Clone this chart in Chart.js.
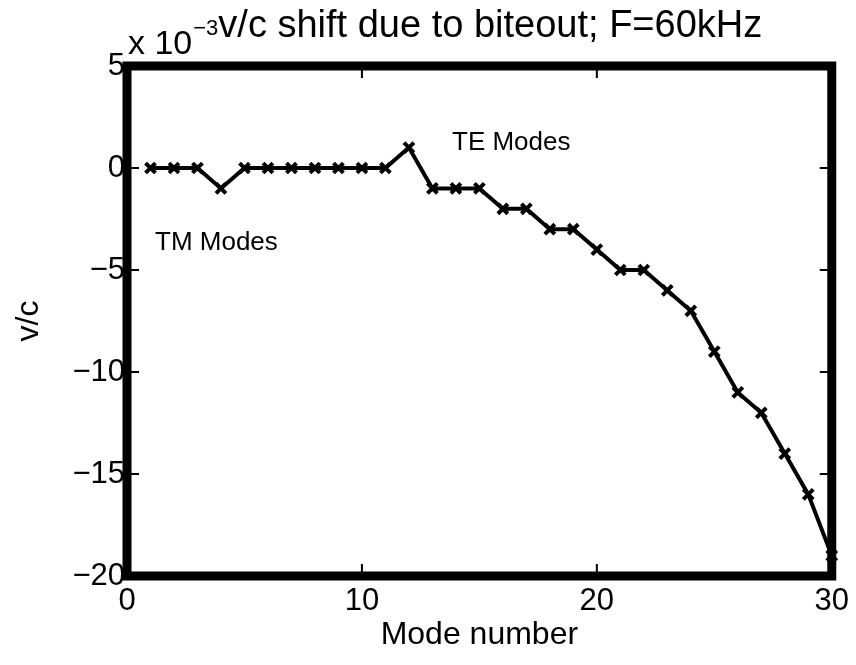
<!DOCTYPE html>
<html>
<head>
<meta charset="utf-8">
<script src="https://cdn.jsdelivr.net/npm/chart.js@4"></script>
<style>
  html, body { margin: 0; padding: 0; background: #fff; }
  #wrap { width: 856px; height: 665px; }
</style>
</head>
<body>
<div id="wrap"><canvas id="chart" width="856" height="665"></canvas></div>
<script>
// data (v/c in units of 1e-3)
const modes = [1, 2, 3, 4, 5, 6, 7, 8, 9, 10, 11, 12, 13, 14, 15, 16, 17, 18, 19, 20, 21, 22, 23, 24, 25, 26, 27, 28, 29, 30];
const shift = [0, 0, 0, -1, 0, 0, 0, 0, 0, 0, 0, 1, -1, -1, -1, -2, -2, -3, -3, -4, -5, -5, -6, -7, -9, -11, -12, -14, -16, -19];
const xTicks = [0, 10, 20, 30];
const yTicks = [5, 0, -5, -10, -15, -20];

const FONT = "'Liberation Sans', Arial, Helvetica, sans-serif";

// thick box, inward ticks and the text annotations
const framePlugin = {
    id: "frame",
    beforeDatasetsDraw(chart) {
        const { ctx, chartArea: a, scales } = chart;
        ctx.save();
        ctx.strokeStyle = "#000";
        ctx.lineWidth = 2;
        ctx.beginPath();
        xTicks.forEach((v) => {
            const x = scales.x.getPixelForValue(v);
            ctx.moveTo(x, a.bottom); ctx.lineTo(x, a.bottom - 12);
            ctx.moveTo(x, a.top); ctx.lineTo(x, a.top + 12);
        });
        yTicks.forEach((v) => {
            const y = scales.y.getPixelForValue(v);
            ctx.moveTo(a.left, y); ctx.lineTo(a.left + 12, y);
            ctx.moveTo(a.right, y); ctx.lineTo(a.right - 12, y);
        });
        ctx.stroke();
        ctx.lineWidth = 9;
        ctx.strokeRect(a.left, a.top, a.right - a.left, a.bottom - a.top);
        ctx.restore();
    },
    afterDraw(chart) {
        const { ctx } = chart;
        ctx.save();
        ctx.fillStyle = "#000";
        ctx.textBaseline = "alphabetic";
        ctx.textAlign = "left";
        ctx.font = "34px " + FONT;
        ctx.fillText("x 10", 128, 54);
        let x = 128 + ctx.measureText("x 10").width + 1;
        ctx.font = "22px " + FONT;
        ctx.fillText("\u22123", x, 35);
        x += ctx.measureText("\u22123").width;
        ctx.font = "38px " + FONT;
        ctx.fillText("v/c shift due to biteout; F=60kHz", x, 37);
        ctx.font = "26px " + FONT;
        ctx.fillText("TE Modes", 452, 150);
        ctx.fillText("TM Modes", 155, 250);
        ctx.restore();
    },
};

const ctx = document.getElementById("chart").getContext("2d");
new Chart(ctx, {
    type: "line",
    data: {
        datasets: [
            {
                data: modes.map((m, i) => ({ x: m, y: shift[i] })),
                borderColor: "#000",
                backgroundColor: "#000",
                borderWidth: 4,
                pointStyle: "crossRot",
                pointRadius: 7,
                pointBorderWidth: 4,
                pointBorderColor: "#000",
                tension: 0,
                clip: false,
            },
        ],
    },
    options: {
        responsive: false,
        animation: false,
        layout: { padding: { top: 66, right: 24, bottom: 0, left: 0 } },
        plugins: { legend: { display: false }, tooltip: { enabled: false } },
        scales: {
            x: {
                type: "linear",
                min: 0,
                max: 30,
                afterBuildTicks: (s) => { s.ticks = xTicks.map((v) => ({ value: v })); },
                afterFit: (s) => { s.height = 89; },
                grid: { display: false, drawTicks: false },
                border: { display: false },
                ticks: { color: "#000", font: { size: 31, family: FONT }, padding: 7, maxRotation: 0 },
                title: { display: true, text: "Mode number", color: "#000", font: { size: 32, family: FONT }, padding: { top: 0, bottom: 11 } },
            },
            y: {
                type: "linear",
                min: -20,
                max: 5,
                afterBuildTicks: (s) => { s.ticks = yTicks.map((v) => ({ value: v })); },
                afterFit: (s) => { s.width = 127; },
                grid: { display: false, drawTicks: false },
                border: { display: false },
                ticks: {
                    color: "#000",
                    font: { size: 31, family: FONT },
                    padding: 2,
                    callback: (v) => String(v).replace("-", "\u2212"),
                },
                title: { display: true, text: "v/c", color: "#000", font: { size: 32, family: FONT }, padding: { top: 10, bottom: 0 } },
            },
        },
    },
    plugins: [framePlugin],
});
</script>
</body>
</html>
